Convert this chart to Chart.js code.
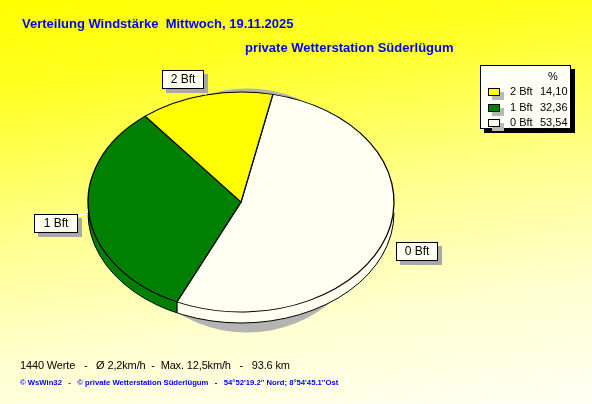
<!DOCTYPE html>
<html>
<head>
<meta charset="utf-8">
<script src="https://cdn.jsdelivr.net/npm/chart.js@4"></script>
<style>
  html, body { margin:0; padding:0; }
  body { width:592px; height:404px; position:relative; overflow:hidden;
    background: linear-gradient(172deg, #FFFF00 0%, #FFFF20 18%, #FFFF90 50%, #FFFFD0 75%, #FFFFF4 100%);
    font-family: 'Liberation Sans', Arial, sans-serif; }
  #c { position:absolute; left:0; top:0; }
  .t { position:absolute; white-space:pre; line-height:1; }
  .title { color:#0000FF; font-weight:bold; font-size:13px; }
  .lbl { position:absolute; background:#FFFFF0; border:1px solid #000; box-shadow:4px 4px 0 #A8A8A8;
    font-size:12px; text-align:center; line-height:17px; height:17px; }
  .lead { position:absolute; background:#FFFFFF; }
  #legend { position:absolute; left:480px; top:65px; width:89px; height:62px; background:#FFFFF8;
    border:1px solid #000; box-shadow:4px 4px 0 #000; font-size:11px; }
  .sw { position:absolute; width:10px; height:6px; border:1px solid #000; box-shadow:4px 4px 0 #B8B8B8; }
</style>
</head>
<body>
<canvas id="c" width="592" height="404"></canvas>

<div class="t title" style="left:22px; top:17px;">Verteilung Windstärke  Mittwoch, 19.11.2025</div>
<div class="t title" style="left:245px; top:41px;">private Wetterstation Süderlügum</div>

<div id="legend"></div>
<div id="labels"></div>

<div class="t" style="left:20px; top:360px; font-size:11px; letter-spacing:-0.15px; color:#000;">1440 Werte   -   Ø 2,2km/h  -  Max. 12,5km/h   -   93.6 km</div>
<div class="t" style="left:20px; top:379px; font-size:7.7px; font-weight:bold; color:#0000FF;">© WsWin32   -   © private Wetterstation Süderlügum   -   54°52'19.2'' Nord; 8°54'45.1''Ost</div>

<script>
// ---- data ----
const categories = ['0 Bft', '1 Bft', '2 Bft'];
const percentages = [53.54, 32.36, 14.10];
const percentLabels = ['53,54', '32,36', '14,10'];
const sliceColors = ['#FFFFF2', '#008000', '#FFFF00'];
const legendOrder = [2, 1, 0];

// ---- geometry / style ----
const RX = 153, RY = 110, DEPTH = 11;

const ellipsePie = {
  id: 'ellipsePie',
  beforeDatasetsDraw(chart) {
    const ctx = chart.ctx;
    const arcs = chart.getDatasetMeta(0).data;
    if (!arcs.length) return;
    const cx = arcs[0].x, cy = arcs[0].y, r = arcs[0].outerRadius;
    const sy = RY / r;
    // shadow
    ctx.save();
    ctx.fillStyle = '#B4B4B4';
    ctx.beginPath();
    ctx.ellipse(cx + 6, cy + 8.5, r - 26, RY + 12, 0, 0, Math.PI * 2);
    ctx.fill();
    ctx.restore();
    // side walls
    for (let d = DEPTH; d >= 1; d--) {
      ctx.save();
      ctx.translate(cx, cy + d);
      ctx.scale(1, sy);
      arcs.forEach(a => {
        ctx.beginPath();
        ctx.moveTo(0, 0);
        ctx.arc(0, 0, r, a.startAngle, a.endAngle);
        ctx.closePath();
        ctx.fillStyle = a.options.backgroundColor;
        ctx.fill();
      });
      ctx.restore();
    }
    // bottom outline
    ctx.save();
    ctx.strokeStyle = '#000';
    ctx.lineWidth = 1;
    ctx.beginPath();
    ctx.ellipse(cx, cy + DEPTH, r, RY, 0, 0, Math.PI);
    ctx.stroke();
    // seams on the front side
    arcs.forEach(a => {
      const ang = a.startAngle;
      if (Math.sin(ang) > 0) {
        const x = cx + r * Math.cos(ang), y = cy + RY * Math.sin(ang);
        ctx.beginPath();
        ctx.moveTo(x, y);
        ctx.lineTo(x, y + DEPTH);
        ctx.stroke();
      }
    });
    ctx.restore();
    // squash top face
    ctx.save();
    ctx.translate(cx, cy);
    ctx.scale(1, sy);
    ctx.translate(-cx, -cy);
  },
  afterDatasetsDraw(chart) {
    chart.ctx.restore();
  }
};

const chart = new Chart(document.getElementById('c'), {
  type: 'pie',
  data: {
    labels: categories,
    datasets: [{
      data: percentages,
      backgroundColor: sliceColors,
      borderColor: '#000000',
      borderWidth: 1.3,
      borderJoinStyle: 'miter'
    }]
  },
  options: {
    responsive: false,
    animation: false,
    events: [],
    rotation: 12,
    radius: RX,
    layout: { padding: { left: 88, right: 198, top: 49, bottom: 49 } },
    plugins: { legend: { display: false }, title: { display: false }, tooltip: { enabled: false } }
  },
  plugins: [ellipsePie]
});

// ---- legend (HTML) ----
const legend = document.getElementById('legend');
let html = '<div class="t" style="left:67px; top:5px;">%</div>';
legendOrder.forEach((idx, row) => {
  const y = 21 + row * 15.5;
  html += `<div class="sw" style="left:7px; top:${y + 1}px; background:${sliceColors[idx]};"></div>`;
  html += `<div class="t" style="left:29px; top:${y - 1}px;">${categories[idx]}</div>`;
  html += `<div class="t" style="left:59px; top:${y - 1}px;">${percentLabels[idx]}</div>`;
});
legend.innerHTML = html;

// ---- slice labels with leader lines ----
const labelBoxes = [
  { idx: 2, left: 162, top: 70, w: 40 },
  { idx: 1, left: 34, top: 214, w: 42 },
  { idx: 0, left: 396, top: 242, w: 40 }
];
let lh = '';
lh += '<div class="lead" style="left:205px; top:89px; width:1px; height:6px;"></div>';
lh += '<div class="lead" style="left:78px; top:214px; width:10px; height:1px;"></div>';
lh += '<div class="lead" style="left:391px; top:239px; width:5px; height:1px;"></div>';
labelBoxes.forEach(b => {
  lh += `<div class="lbl" style="left:${b.left}px; top:${b.top}px; width:${b.w}px;">${categories[b.idx]}</div>`;
});
document.getElementById('labels').innerHTML = lh;
</script>
</body>
</html>
